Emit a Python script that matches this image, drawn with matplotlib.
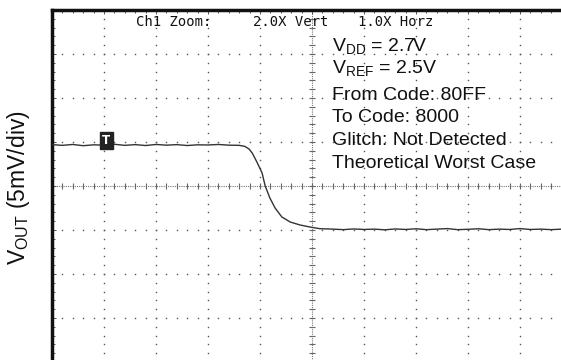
import matplotlib
matplotlib.use("Agg")
import matplotlib.pyplot as plt
import matplotlib.transforms as mtransforms
import numpy as np

plt.rcParams["font.family"] = ["Liberation Sans", "DejaVu Sans"]
plt.rcParams["mathtext.default"] = "regular"

# Scope trace: time in screen divisions, output in mV relative to screen centre
time_div = [0.00, 0.20, 0.40, 0.60, 0.80, 1.00, 1.20, 1.40, 1.60, 1.80,
            2.00, 2.20, 2.40, 2.60, 2.80, 3.00, 3.20, 3.40, 3.60, 3.71,
            3.79, 3.85, 3.94, 4.04, 4.10, 4.19, 4.29, 4.42, 4.58, 4.77,
            4.96, 5.15, 5.40, 5.60, 5.80, 6.00, 6.20, 6.40, 6.60, 6.80,
            7.00, 7.20, 7.40, 7.60, 7.80, 8.00, 8.20, 8.40, 8.60, 8.80,
            9.00, 9.20, 9.40, 9.60, 9.80, 10.00]
vout_mv = [4.70, 4.62, 4.72, 4.58, 4.68, 4.64, 4.74, 4.62, 4.70, 4.60,
           4.72, 4.64, 4.70, 4.60, 4.68, 4.66, 4.72, 4.64, 4.62, 4.50,
           4.20, 3.75, 2.73, 1.48, 0.00, -1.36, -2.50, -3.52, -4.09, -4.43,
           -4.66, -4.85, -4.90, -4.96, -4.88, -4.94, -4.90, -4.98, -4.88, -4.94,
           -4.86, -4.96, -4.90, -4.84, -4.96, -4.92, -4.86, -4.96, -4.90, -4.94,
           -4.84, -4.94, -4.90, -4.96, -4.90, -4.92]

trigger_time_div = 1.04
trigger_level_mv = 4.70

header_parts = ["Ch1 Zoom:", "2.0X Vert", "1.0X Horz"]
header_x_div = [1.62, 3.87, 5.88]
info_lines = [r"$V_{DD}$ = 2.7V", r"$V_{REF}$ = 2.5V", "From Code: 80FF",
              "To Code: 8000", "Glitch: Not Detected", "Theoretical Worst Case"]
ylabel = r"$V_{OUT}$ (5mV/div)"

n_xdiv, n_ydiv, mv_per_div = 10, 8, 5.0
ymin, ymax = -n_ydiv / 2 * mv_per_div, n_ydiv / 2 * mv_per_div

fig = plt.figure(figsize=(5.61, 3.60), dpi=100)
ax = fig.add_axes([52 / 561, -2 / 360, 520 / 561, 352 / 360])
ax.set_xlim(0, n_xdiv)
ax.set_ylim(ymin, ymax)

grid_col = "#555555"
# dotted graticule lines
xs_fine = np.arange(0, n_xdiv + 0.01, 0.2)
ys_fine = np.arange(ymin, ymax + 0.01, mv_per_div / 5)
for gx in range(1, n_xdiv):
    if gx == n_xdiv // 2:
        continue
    ax.plot(np.full_like(ys_fine, gx), ys_fine, ls="none", marker="s",
            ms=1.0, mew=0, color=grid_col, zorder=1)
for gy in np.arange(ymin + mv_per_div, ymax, mv_per_div):
    if abs(gy) < 1e-9:
        continue
    ax.plot(xs_fine, np.full_like(xs_fine, gy), ls="none", marker="s",
            ms=1.0, mew=0, color=grid_col, zorder=1)

# centre cross-hair with minor tick marks
cx = n_xdiv / 2
ax.axhline(0, color="#777777", lw=0.8, ls=(0, (1, 1)), zorder=1)
ax.axvline(cx, color="#777777", lw=0.8, ls=(0, (1, 1)), zorder=1)
ax.plot(xs_fine, np.zeros_like(xs_fine), ls="none", marker="|", ms=4,
        mew=0.8, color="#666666", zorder=1)
ax.plot(np.full_like(ys_fine, cx), ys_fine, ls="none", marker="_", ms=4,
        mew=0.8, color="#666666", zorder=1)

# trace
ax.plot(time_div, vout_mv, color="#333333", lw=1.0, zorder=3)

# trigger marker
ax.annotate("T", xy=(trigger_time_div, trigger_level_mv), xytext=(0, 3),
            textcoords="offset points", ha="center", va="center",
            fontsize=8.5, fontweight="bold", color="white",
            family="DejaVu Sans",
            bbox=dict(boxstyle="square,pad=0.2", fc="#222222", ec="#222222"),
            zorder=4)

# frame
for side in ("right", "bottom"):
    ax.spines[side].set_visible(False)
for side in ("left", "top"):
    ax.spines[side].set_linewidth(2.5)
    ax.spines[side].set_color("#111111")
ax.xaxis.tick_top()
ax.set_xticks(range(0, n_xdiv + 1))
ax.set_xticks(xs_fine, minor=True)
ax.set_yticks(np.arange(ymin, ymax + 0.01, mv_per_div))
ax.set_yticks(ys_fine, minor=True)
ax.tick_params(which="both", direction="in", labeltop=False, labelleft=False,
               labelbottom=False, color="#555555", width=0.7)
ax.tick_params(which="major", length=3)
ax.tick_params(which="minor", length=2)

# header line
header_tf = mtransforms.blended_transform_factory(ax.transData, fig.transFigure)
for txt, hx in zip(header_parts, header_x_div):
    ax.text(hx, 1 - 26 / 360, txt, ha="left", va="baseline", fontsize=10,
            family="DejaVu Sans Mono", color="#111111", zorder=5,
            transform=header_tf)

# condition notes
line_y_px = [51, 73, 100, 122, 145, 168]
for txt, yp in zip(info_lines, line_y_px):
    fig.text(332 / 561, 1 - yp / 360, txt, ha="left", va="baseline",
             fontsize=14, color="#111111")

fig.text(19 / 561, 1 - 188 / 360, ylabel, rotation=90, ha="center",
         va="center", fontsize=16.5, color="#111111")

fig.savefig("out.png", dpi=100)
